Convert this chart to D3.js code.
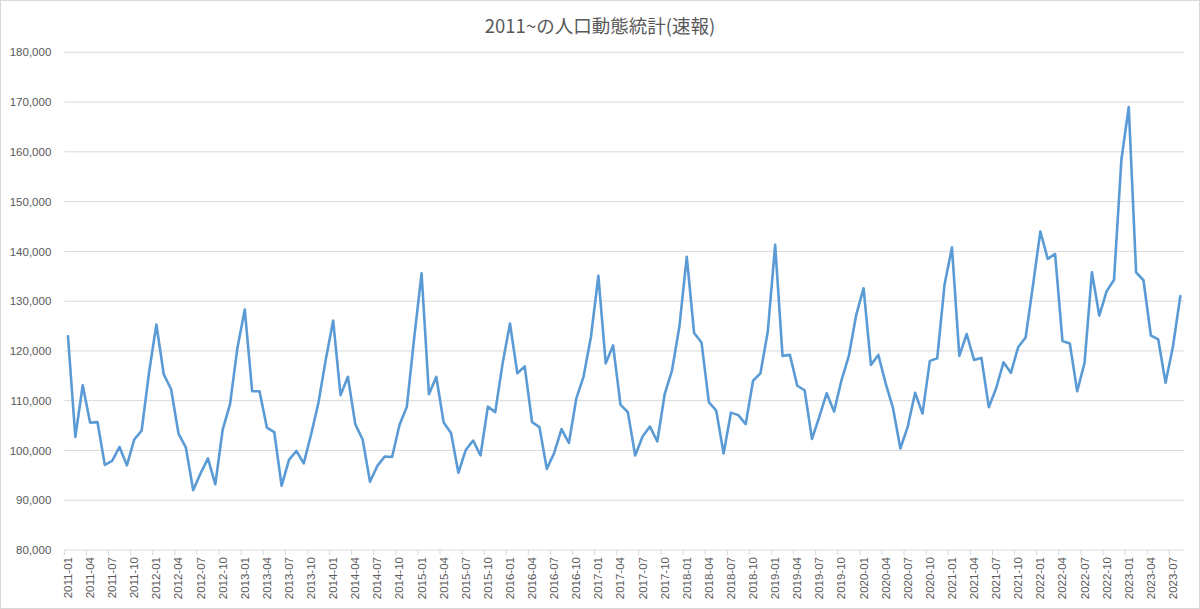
<!DOCTYPE html>
<html>
<head>
<meta charset="utf-8">
<script src="https://cdn.jsdelivr.net/npm/d3@7"></script>
<style>
  html, body { margin: 0; padding: 0; background: #fff; }
  svg { display: block; }
</style>
</head>
<body>
<svg id="chart" width="1200" height="609"></svg>
<script>
// ---- data ----
const title = "2011~の人口動態統計(速報)";
const startYear = 2011;
const monthCount = 152; // 2011-01 .. 2023-08
const categories = d3.range(monthCount).map(i => {
  const y = startYear + Math.floor(i / 12);
  const m = (i % 12) + 1;
  return y + "-" + String(m).padStart(2, "0");
});
const values = [
  122950, 102700, 113100, 105600, 105700, 97100, 97900, 100700, 97000, 102200, 104000, 115600,
  125300, 115300, 112300, 103400, 100600, 92000, 95400, 98400, 93200, 104200, 109300, 120600,
  128300, 111900, 111900, 104600, 103700, 92900, 98100, 99900, 97400, 103200, 109600, 118300,
  126100, 111100, 114800, 105300, 102200, 93700, 96900, 98800, 98700, 105100, 108800, 122600,
  135600, 111300, 114800, 105600, 103500, 95500, 100100, 102000, 99000, 108800, 107700, 117500,
  125500, 115500, 116900, 105700, 104700, 96300, 99500, 104300, 101500, 110400, 114900, 122900,
  135100, 117500, 121100, 109200, 107700, 99000, 102800, 104800, 101800, 111300, 116100, 124900,
  138900, 123600, 121700, 109700, 108000, 99400, 107600, 107100, 105300, 114000, 115500, 123900,
  141300, 119000, 119200, 113000, 112100, 102300, 106800, 111500, 107800, 114100, 119000, 127200,
  132600, 117200, 119200, 113500, 108500, 100400, 104800, 111600, 107400, 118000, 118500, 133400,
  140800, 119000, 123400, 118200, 118600, 108700, 112500, 117700, 115600, 120800, 122700, 133200,
  144000, 138500, 139500, 122000, 121500, 111900, 117600, 135800, 127100, 132000, 134300, 158400,
  169000, 135800, 134200, 123100, 122300, 113600, 120900, 131000
];
const yTicks = [80000, 90000, 100000, 110000, 120000, 130000, 140000, 150000, 160000, 170000, 180000];
const xTickEvery = 3;

// ---- layout ----
const W = 1200, H = 609;
const plot = { left: 64.3, right: 1184, top: 52.3, bottom: 550 };
const svg = d3.select("#chart");
const font = "'Liberation Sans', Arial, sans-serif";
const textColor = "#595959";
const gridColor = "#d9d9d9";

svg.append("rect").attr("x", 0.5).attr("y", 0.5).attr("width", W - 1).attr("height", H - 1)
  .attr("fill", "#fff").attr("stroke", "#d9d9d9");

const x = d3.scaleBand().domain(categories).range([plot.left, plot.right]).padding(0);
const y = d3.scaleLinear().domain([80000, 180000]).range([plot.bottom, plot.top]);

// gridlines
svg.append("g").selectAll("line").data(yTicks.slice(1)).join("line")
  .attr("x1", plot.left).attr("x2", plot.right)
  .attr("y1", d => y(d)).attr("y2", d => y(d))
  .attr("stroke", gridColor).attr("stroke-width", 1);

// y axis labels
const fmt = d3.format(",");
const yAxis = d3.axisLeft(y).tickValues(yTicks).tickFormat(fmt).tickSize(0).tickPadding(13);
const gy = svg.append("g").attr("transform", `translate(${plot.left},0)`).call(yAxis);
gy.select(".domain").remove();
gy.selectAll("text").attr("fill", textColor).style("font-family", font).style("font-size", "11.5px");

// x axis
const gx = svg.append("g").attr("transform", `translate(0,${plot.bottom})`);
gx.append("line").attr("x1", plot.left).attr("x2", plot.right).attr("y1", 0).attr("y2", 0)
  .attr("stroke", gridColor).attr("stroke-width", 1);
const tickCats = categories.filter((d, i) => i % xTickEvery === 0);
gx.selectAll("line.tick").data(tickCats).join("line").attr("class", "tick")
  .attr("x1", d => x(d)).attr("x2", d => x(d)).attr("y1", 0).attr("y2", 5)
  .attr("stroke", gridColor).attr("stroke-width", 1);
gx.selectAll("text").data(tickCats).join("text")
  .attr("transform", d => `translate(${x(d) + x.bandwidth() / 2 + 4},7) rotate(-90)`)
  .attr("text-anchor", "end")
  .attr("fill", textColor).style("font-family", font).style("font-size", "11.5px")
  .text(d => d);

// line
const line = d3.line()
  .x((d, i) => x(categories[i]) + x.bandwidth() / 2)
  .y(d => y(d));
svg.append("path").datum(values)
  .attr("d", line).attr("fill", "none")
  .attr("stroke", "#5b9bd5").attr("stroke-width", 2.6)
  .attr("stroke-linejoin", "round").attr("stroke-linecap", "round");

// title
svg.append("text").attr("x", 600).attr("y", 33).attr("text-anchor", "middle")
  .attr("fill", textColor)
  .style("font-family", "'Noto Sans CJK JP', 'Noto Sans', sans-serif")
  .style("font-size", "18.5px")
  .text(title);
</script>
</body>
</html>
